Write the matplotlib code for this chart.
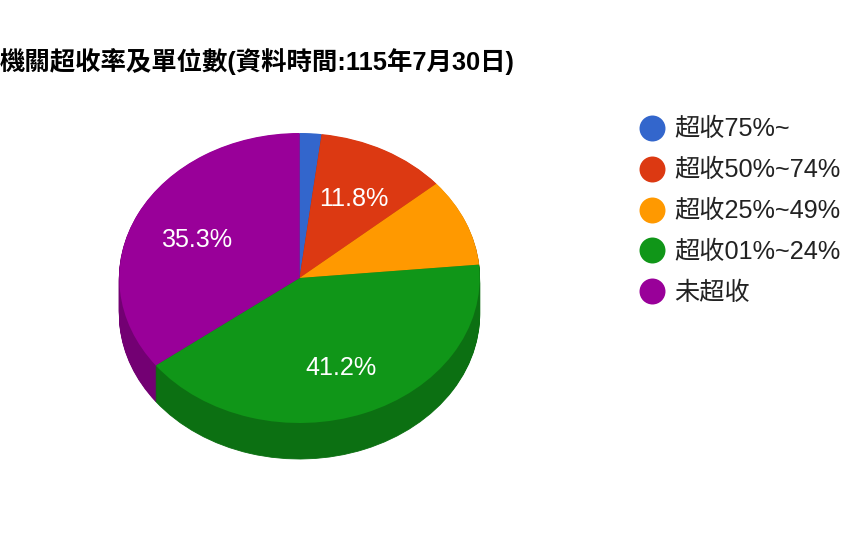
import matplotlib
matplotlib.use('Agg')
import matplotlib.pyplot as plt
from matplotlib.lines import Line2D

plt.rcParams['font.family'] = ['Liberation Sans', 'Noto Sans CJK TC', 'DejaVu Sans']

title = '機關超收率及單位數(資料時間:115年7月30日)'
categories = ['超收75%~', '超收50%~74%', '超收25%~49%', '超收01%~24%', '未超收']
values = [1, 6, 5, 21, 18]
colors = ['#3366cc', '#dc3912', '#ff9900', '#109618', '#990099']
side_colors = ['#264d99', '#a52b0e', '#bf7300', '#0c7012', '#730073']

W, H = 841, 533
fig = plt.figure(figsize=(W / 100, H / 100), dpi=100, facecolor='white')

# axes whose -1..1 box is the top ellipse of the pie
cx, cy, rx, ry, depth = 299.5, 278, 180.2, 145, 36
ax = fig.add_axes([(cx - rx) / W, 1 - (cy + ry) / H, 2 * rx / W, 2 * ry / H])

for k in range(depth, 0, -1):
    wedges, _ = ax.pie(values, colors=side_colors, startangle=90, counterclock=False,
                       center=(0, -k * 2 / (2 * ry)), radius=1, frame=False,
                       wedgeprops={'linewidth': 0.6, 'edgecolor': None, 'clip_on': False})
    for w, c in zip(wedges, side_colors):
        w.set_edgecolor(c)

_, _, autotexts = ax.pie(values, colors=colors, startangle=90, counterclock=False, center=(0, 0),
                         radius=1, autopct=lambda p: f'{p:.1f}%' if p >= 10 else '',
                         pctdistance=0.64,
                         textprops={'color': 'white', 'fontsize': 18.1},
                         wedgeprops={'linewidth': 0, 'clip_on': False})
for t in autotexts:
    x, y = t.get_position()
    t.set_position((x, y - 3 / ry))
ax.set_aspect('auto')
ax.set_xlim(-1, 1)
ax.set_ylim(-1, 1)
ax.axis('off')

fig.text(0, 1 - 61.5 / H, title, fontsize=18.3, fontweight='bold', color='black',
         ha='left', va='center')

handles = [Line2D([], [], linestyle='none', marker='o', markersize=18.7, color=c,
                  markeredgewidth=0) for c in colors]
leg = fig.legend(handles, categories, loc='upper left', bbox_to_anchor=(638 / W, 1 - 117.5 / H),
                 bbox_transform=fig.transFigure, frameon=False, fontsize=18.2,
                 labelcolor='#222222', handlelength=1.1, handletextpad=0.33,
                 labelspacing=0.67, borderpad=0, borderaxespad=0)

fig.savefig('out.png', dpi=100, facecolor='white')
